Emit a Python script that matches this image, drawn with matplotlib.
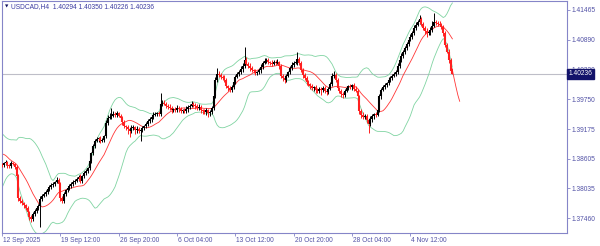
import numpy as np
import matplotlib
matplotlib.use('Agg')
import matplotlib.pyplot as plt
import matplotlib.transforms as mtransforms

# ---------------- data ----------------
title_text = "USDCAD,H4  1.40294 1.40350 1.40226 1.40236"
last_price = 1.40236

# warm-up closes before the visible window (used only for the indicators)
pre_closes = [1.3796, 1.3804, 1.3810, 1.3820, 1.3829, 1.3839, 1.3854, 1.3868, 1.3881, 1.3893,
              1.3896, 1.3891, 1.3883, 1.3877, 1.3868, 1.3858, 1.3862, 1.3854, 1.3850, 1.3849]

closes = [
    1.3848, 1.3852, 1.3854, 1.3848, 1.3846, 1.3852, 1.3850, 1.3845, 1.3827, 1.3785,
    1.3779, 1.3775, 1.3771, 1.3766, 1.3758, 1.3748, 1.3745, 1.3754, 1.3760, 1.3766,
    1.3770, 1.3783, 1.3789, 1.3793, 1.3796, 1.3802, 1.3806, 1.3810, 1.3812, 1.3816,
    1.3820, 1.3812, 1.3785, 1.3779, 1.3793, 1.3800, 1.3804, 1.3808, 1.3812, 1.3816,
    1.3818, 1.3821, 1.3825, 1.3818, 1.3827, 1.3833, 1.3837, 1.3843, 1.3856, 1.3871,
    1.3885, 1.3895, 1.3898, 1.3900, 1.3895, 1.3896, 1.3904, 1.3929, 1.3939, 1.3941,
    1.3943, 1.3946, 1.3945, 1.3948, 1.3943, 1.3939, 1.3931, 1.3923, 1.3921, 1.3918,
    1.3914, 1.3920, 1.3921, 1.3916, 1.3918, 1.3914, 1.3916, 1.3920, 1.3923, 1.3927,
    1.3933, 1.3937, 1.3941, 1.3945, 1.3946, 1.3948, 1.3946, 1.3966, 1.3968, 1.3966,
    1.3962, 1.3960, 1.3958, 1.3954, 1.3956, 1.3954, 1.3958, 1.3956, 1.3952, 1.3954,
    1.3952, 1.3956, 1.3960, 1.3962, 1.3966, 1.3964, 1.3962, 1.3958, 1.3960, 1.3954,
    1.3952, 1.3950, 1.3954, 1.3948, 1.3950, 1.3958, 1.3981, 1.4012, 1.4023, 1.4021,
    1.4018, 1.4016, 1.4012, 1.4000, 1.3996, 1.3993, 1.3998, 1.4008, 1.4018, 1.4023,
    1.4027, 1.4033, 1.4039, 1.4050, 1.4043, 1.4039, 1.4035, 1.4031, 1.4029, 1.4025,
    1.4027, 1.4031, 1.4037, 1.4045, 1.4048, 1.4050, 1.4046, 1.4045, 1.4043, 1.4046,
    1.4045, 1.4046, 1.4039, 1.4020, 1.4016, 1.4012, 1.4020, 1.4027, 1.4035, 1.4041,
    1.4045, 1.4046, 1.4052, 1.4045, 1.4031, 1.4021, 1.4016, 1.4008, 1.4004, 1.4000,
    1.3996, 1.3998, 1.3993, 1.3991, 1.3995, 1.3993, 1.3996, 1.3991, 1.3989, 1.3995,
    1.4004, 1.4020, 1.4021, 1.4012, 1.3996, 1.3991, 1.3985, 1.3983, 1.3991, 1.3996,
    1.4000, 1.3998, 1.4002, 1.3995, 1.3991, 1.3981, 1.3952, 1.3945, 1.3941, 1.3943,
    1.3935, 1.3927, 1.3937, 1.3943, 1.3946, 1.3945, 1.3954, 1.3981, 1.3993, 1.3998,
    1.4002, 1.4006, 1.4012, 1.4016, 1.4020, 1.4023, 1.4027, 1.4039, 1.4050, 1.4058,
    1.4066, 1.4073, 1.4081, 1.4089, 1.4095, 1.4102, 1.4112, 1.4118, 1.4123, 1.4129,
    1.4120, 1.4112, 1.4106, 1.4102, 1.4104, 1.4108, 1.4116, 1.4123, 1.4121, 1.4120,
    1.4118, 1.4114, 1.4102, 1.4079, 1.4066, 1.4050, 1.40294, 1.40236,
]

upper_wick_pips = [
    4, 3, 5, 3, 2, 4, 3, 2, 3, 4,   3, 4, 2, 3, 3, 2, 5, 4, 3, 3,
    4, 5, 3, 3, 4, 2, 3, 4, 3, 2,   5, 3, 4, 3, 4, 3, 2, 3, 4, 3,
    3, 4, 5, 6, 3, 4, 3, 2, 4, 3,   4, 3, 5, 3, 4, 4, 3, 6, 5, 8,
    15, 6, 4, 5, 3, 4, 3, 4, 3, 4,  3, 5, 4, 3, 6, 4, 3, 4, 3, 4,
    3, 4, 3, 5, 4, 3, 4, 21, 6, 5,  4, 3, 5, 4, 3, 4, 5, 3, 4, 3,
    4, 5, 3, 4, 6, 3, 4, 3, 5, 4,   3, 4, 5, 3, 4, 3, 4, 5, 12, 6,
    4, 3, 5, 4, 3, 4, 5, 3, 4, 5,   4, 5, 6, 25, 6, 4, 5, 4, 3, 4,
    3, 4, 5, 4, 6, 5, 4, 3, 5, 4,   4, 6, 3, 4, 3, 5, 4, 3, 4, 5,
    4, 5, 13, 4, 3, 4, 5, 3, 4, 3,  4, 3, 5, 3, 4, 3, 5, 4, 3, 4,
    5, 6, 8, 5, 4, 3, 4, 3, 4, 5,   3, 4, 3, 4, 5, 4, 3, 4, 5, 3,
    4, 3, 5, 4, 3, 4, 5, 4, 3, 5,   4, 3, 5, 4, 3, 4, 5, 6, 4, 5,
    4, 5, 4, 6, 5, 4, 6, 5, 4, 8,   5, 4, 3, 5, 4, 6, 10, 17, 5, 4,
    5, 4, 3, 5, 4, 6, 5, 5.6,
]

lower_wick_pips = [
    3, 4, 3, 5, 4, 3, 2, 4, 3, 5,   4, 3, 5, 4, 3, 6, 6, 4, 3, 4,
    5, 40, 4, 3, 5, 4, 3, 4, 3, 4,  3, 4, 5, 4, 3, 4, 3, 4, 3, 4,
    4, 3, 4, 5, 4, 3, 4, 3, 4, 3,   3, 4, 3, 5, 4, 3, 4, 3, 4, 3,
    4, 3, 5, 4, 3, 4, 5, 4, 6, 10,  12, 5, 4, 8, 6, 4, 19, 5, 4, 3,
    4, 3, 5, 4, 3, 4, 3, 4, 5, 3,   4, 3, 4, 5, 3, 4, 3, 5, 4, 3,
    4, 3, 5, 4, 3, 4, 5, 3, 4, 6,   5, 4, 6, 8, 5, 4, 3, 4, 3, 4,
    4, 5, 3, 4, 6, 5, 4, 3, 4, 3,   4, 3, 5, 4, 3, 4, 5, 4, 3, 4,
    4, 3, 5, 4, 3, 4, 3, 4, 5, 3,   4, 3, 5, 4, 6, 5, 4, 3, 4, 3,
    4, 3, 5, 4, 3, 5, 4, 6, 4, 5,   4, 5, 6, 4, 5, 10, 4, 5, 6, 4,
    3, 4, 5, 4, 3, 5, 6, 5, 4, 3,   4, 3, 5, 4, 3, 4, 5, 6, 4, 5,
    5, 17, 4, 5, 6, 4, 3, 4, 5, 3,  4, 3, 4, 3, 4, 3, 4, 3, 4, 3,
    3, 4, 3, 4, 3, 4, 3, 4, 3, 4,   4, 3, 5, 7, 4, 5, 4, 3, 4, 5,
    3, 4, 5, 4, 3, 5, 4, 1,
]

# thin red line that continues past the last candle
tail_values = [1.4031, 1.4014, 1.3998, 1.3983, 1.3971]

x_tick_labels = ["12 Sep 2025", "19 Sep 12:00", "26 Sep 20:00", "6 Oct 04:00",
                 "13 Oct 12:00", "20 Oct 20:00", "28 Oct 04:00", "4 Nov 12:00"]
x_tick_bars = [0, 32, 64, 96, 128, 160, 192, 224]
y_ticks = [1.41465, 1.40890, 1.40320, 1.39750, 1.39175, 1.38605, 1.38035, 1.37460]

bb_period = 20
bb_dev = 2.0
ma_period = 14

# ---------------- styling ----------------
FRAME = '#8585c8'
LABEL = '#5252a6'
GREEN = '#80d4a2'
RED = '#ff2020'
FONT = 'Liberation Sans'
FS = 4.8

W, H = 600, 246
fig = plt.figure(figsize=(W / 100, H / 100), dpi=100)
fig.patch.set_facecolor('white')
left_px, right_px, top_px, bot_px = 1.7, 566.7, 1.0, 232.7
ax = fig.add_axes([left_px / W, 1 - bot_px / H, (right_px - left_px) / W, (bot_px - top_px) / H])
ax.set_facecolor('white')

closes_a = np.array(closes)
n = len(closes_a)
x = np.arange(n)
opens_a = np.r_[pre_closes[-1], closes_a[:-1]]
highs_a = np.maximum(opens_a, closes_a) + np.array(upper_wick_pips) / 10000
lows_a = np.minimum(opens_a, closes_a) - np.array(lower_wick_pips) / 10000
bull = closes_a >= opens_a
cols = np.where(bull, '#000000', RED)

# indicators
allc = np.r_[pre_closes, closes_a]
npre = len(pre_closes)
xa = np.arange(len(allc)) - npre
def sma(a, p):
    out = np.full(len(a), np.nan)
    for i in range(p - 1, len(a)):
        out[i] = a[i - p + 1:i + 1].mean()
    return out
def sstd(a, p):
    out = np.full(len(a), np.nan)
    for i in range(p - 1, len(a)):
        out[i] = a[i - p + 1:i + 1].std()
    return out
mid = sma(allc, bb_period)
sd = sstd(allc, bb_period)
ma = sma(allc, ma_period)

ax.axhline(last_price, color='#bebec8', lw=0.8, zorder=1)

ax.plot(xa, mid + bb_dev * sd, color=GREEN, lw=0.6, zorder=2)
ax.plot(xa, mid - bb_dev * sd, color=GREEN, lw=0.6, zorder=2)
ax.plot(xa, ma, color=RED, lw=0.6, zorder=2, alpha=0.9)
ax.plot(np.arange(len(tail_values)) + n - 1, tail_values, color=RED, lw=0.6, zorder=2, alpha=0.9)

ax.vlines(x, lows_a, highs_a, colors=cols, lw=0.7, zorder=3)
ax.vlines(x, np.minimum(opens_a, closes_a), np.maximum(opens_a, closes_a) + 0.00002,
          colors=cols, lw=1.5, zorder=3)

bar_px = 1.8234
ax.set_xlim((left_px - 2.0) / bar_px, (right_px - 2.0) / bar_px)
py_per = 5200.0
def y2p(y):
    return 1.41465 - (y - 10.0) / py_per
ax.set_ylim(y2p(bot_px), y2p(top_px))

for s in ['left', 'right', 'top', 'bottom']:
    ax.spines[s].set_color(FRAME)
    ax.spines[s].set_linewidth(0.8)

ax.yaxis.tick_right()
ax.set_yticks(y_ticks)
ax.set_yticklabels([f"{v:.5f}" for v in y_ticks], fontsize=FS, family=FONT, color=LABEL)
ax.tick_params(axis='y', direction='out', length=2, width=0.6, color=FRAME, pad=1.5)

ax.set_xticks(x_tick_bars)
ax.set_xticklabels(x_tick_labels, fontsize=FS, family=FONT, color=LABEL, ha='left')
ax.tick_params(axis='x', direction='out', length=2, width=0.6, color=FRAME, pad=1.2)
offset = mtransforms.ScaledTranslation(1.0 / 100, 0, fig.dpi_scale_trans)
for lbl in ax.get_xticklabels():
    lbl.set_transform(lbl.get_transform() + offset)

# current price box (covers the 1.40320 label, as in the terminal)
trans = mtransforms.blended_transform_factory(ax.transAxes, ax.transData)
ax.text(1.0 + 1.5 / (right_px - left_px), last_price, f"{last_price:.5f}", transform=trans,
        fontsize=FS, family=FONT, color='white', va='center', ha='left', zorder=10,
        bbox=dict(boxstyle='square,pad=0.25', fc='#13136a', ec='#13136a'), clip_on=False)

# title
ax.text(4.5 / (right_px - left_px), 1 - 5.5 / (bot_px - top_px), '\u25bc', transform=ax.transAxes,
        fontsize=3.2, family='DejaVu Sans', color='#101060', va='center', ha='center')
ax.text(9.5 / (right_px - left_px), 1 - 5.8 / (bot_px - top_px), title_text, transform=ax.transAxes,
        fontsize=FS, family=FONT, color='#3b3ba0', va='center', ha='left')

fig.savefig('out.png', dpi=100, facecolor='white')
